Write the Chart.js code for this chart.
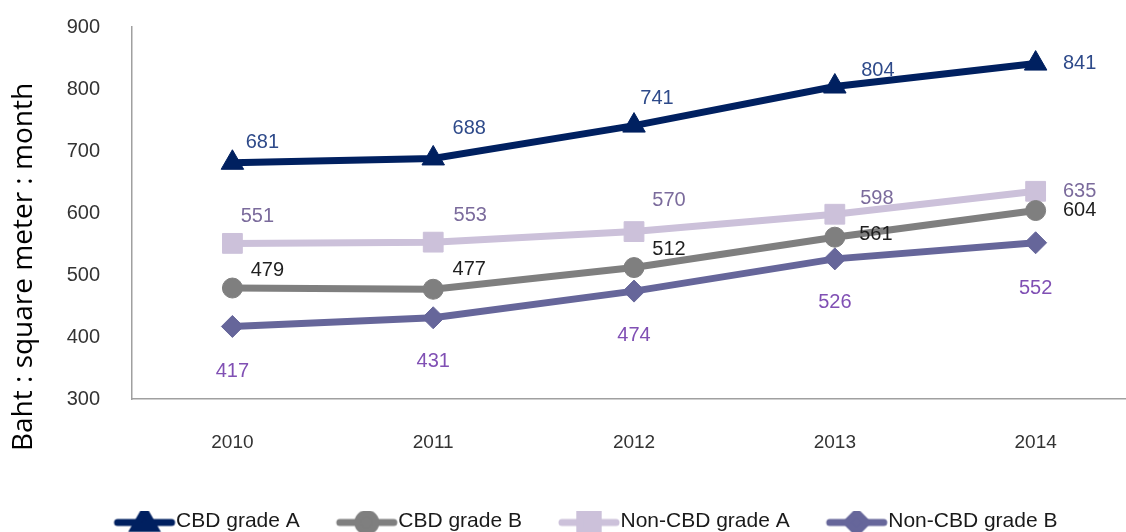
<!DOCTYPE html>
<html>
<head>
<meta charset="utf-8">
<script src="https://cdn.jsdelivr.net/npm/chart.js@4"></script>
<style>
  html, body { margin: 0; padding: 0; background: #fff; }
  #wrap { width: 1126px; height: 532px; }
</style>
</head>
<body>
<div id="wrap"><canvas id="myChart" width="1126" height="532"></canvas></div>
<script>
var years = [2010, 2011, 2012, 2013, 2014];
var cbdA = [681, 688, 741, 804, 841];
var cbdB = [479, 477, 512, 561, 604];
var nonCbdA = [551, 553, 570, 598, 635];
var nonCbdB = [417, 431, 474, 526, 552];
var yTicks = [300, 400, 500, 600, 700, 800, 900];
var yTitle = 'Baht : square meter : month';

// label offsets (px) from each point, per series
var labelOffsets = [
  [[30, -20], [36, -30], [23, -27], [43, -16], [44, 0]],
  [[35, -18], [36, -20], [35, -18], [41, -3], [44, 0]],
  [[25, -27], [37, -27], [35, -31], [42, -16], [44, 0]],
  [[0, 45], [0, 44], [0, 44], [0, 44], [0, 46]]
];

function pts(arr) {
  return arr.map(function (v, i) { return { x: years[i], y: v }; });
}

// legend icon: line with the marker, marker sits right of the image centre
function legendIcon(color, style, r) {
  var c = document.createElement('canvas');
  c.width = 140; c.height = 30;
  var g = c.getContext('2d');
  g.strokeStyle = color; g.fillStyle = color;
  g.lineWidth = 7;
  g.lineCap = 'round';
  g.beginPath(); g.moveTo(66, 16); g.lineTo(120, 16); g.stroke();
  Chart.helpers.drawPoint(g, { pointStyle: style, radius: r, rotation: 0, borderWidth: 1 }, 93, 16);
  return c;
}

var series = [
  { label: 'CBD grade A', data: cbdA, color: '#002060', style: 'triangle', r: 13, lr: 12, text: '#2e4a8a' },
  { label: 'CBD grade B', data: cbdB, color: '#7f7f7f', style: 'circle', r: 10, lr: 9, text: '#1f1f1f' },
  { label: 'Non-CBD grade A', data: nonCbdA, color: '#ccc1da', style: 'rect', r: 14, lr: 13, text: '#7b6b9c' },
  { label: 'Non-CBD grade B', data: nonCbdB, color: '#66669a', style: 'rectRot', r: 11, lr: 10, text: '#8050b4' }
];

var yTitlePlugin = {
  id: 'yTitle',
  afterDraw: function (chart) {
    var c = chart.ctx;
    c.save();
    c.translate(24, 267);
    c.rotate(-Math.PI / 2);
    c.font = '28px "Open Sans"';
    c.fillStyle = '#000';
    c.textAlign = 'center';
    c.textBaseline = 'middle';
    c.fillText(yTitle, 0, 0);
    c.restore();
  }
};

var valueLabels = {
  id: 'valueLabels',
  afterDatasetsDraw: function (chart) {
    var c = chart.ctx;
    c.save();
    c.font = '20px "Liberation Sans"';
    c.textAlign = 'center';
    c.textBaseline = 'middle';
    chart.data.datasets.forEach(function (ds, di) {
      var meta = chart.getDatasetMeta(di);
      c.fillStyle = series[di].text;
      meta.data.forEach(function (p, i) {
        var o = labelOffsets[di][i];
        c.fillText(String(ds.data[i].y), p.x + o[0], p.y + o[1]);
      });
    });
    c.restore();
  }
};

var ctx = document.getElementById('myChart');

var myChart = new Chart(ctx, {
  type: 'line',
  data: {
    datasets: series.map(function (s) {
      return {
        label: s.label,
        data: pts(s.data),
        borderColor: s.color,
        backgroundColor: s.color,
        pointBackgroundColor: s.color,
        pointBorderColor: s.color,
        pointBorderWidth: 1,
        borderWidth: 7,
        pointStyle: s.style,
        pointRadius: s.r,
        pointHoverRadius: s.r,
        tension: 0,
        fill: false,
        clip: false
      };
    })
  },
  options: {
    responsive: false,
    animation: false,
    layout: { autoPadding: false, padding: { top: 27, left: 9, right: 0, bottom: -10 } },
    plugins: {
      tooltip: { enabled: false },
      legend: {
        position: 'bottom',
        labels: {
          usePointStyle: true,
          pointStyleWidth: 88,
          padding: 0,
          color: '#1a1a1a',
          font: { family: 'Liberation Sans', size: 21 },
          generateLabels: function (chart) {
            return series.map(function (s, i) {
              return {
                text: s.label,
                pointStyle: legendIcon(s.color, s.style, s.lr),
                fillStyle: s.color,
                strokeStyle: s.color,
                lineWidth: 0,
                hidden: false,
                datasetIndex: i,
                fontColor: '#1a1a1a'
              };
            });
          }
        }
      }
    },
    scales: {
      x: {
        type: 'linear',
        min: 2009.5,
        max: 2014.45,
        grid: { display: false, drawTicks: false },
        border: { color: '#a0a0a0', width: 1.5 },
        afterBuildTicks: function (scale) {
          scale.ticks = years.map(function (v) { return { value: v }; });
        },
        afterFit: function (scale) {
          scale.height = 112;
          scale.paddingLeft = 0;
          scale.paddingRight = 0;
        },
        ticks: {
          padding: 32,
          color: '#333',
          font: { family: 'Liberation Sans', size: 19 },
          callback: function (v) { return String(v); }
        }
      },
      y: {
        min: 300,
        max: 900,
        grid: { display: false, drawTicks: false },
        border: { color: '#a0a0a0', width: 1.5 },
        afterBuildTicks: function (scale) {
          scale.ticks = yTicks.map(function (v) { return { value: v }; });
        },
        afterFit: function (scale) {
          scale.width = 123;
          scale.paddingTop = 0;
          scale.paddingBottom = 0;
        },
        ticks: {
          padding: 32,
          color: '#333',
          font: { family: 'Liberation Sans', size: 20 }
        }
      }
    }
  },
  plugins: [yTitlePlugin, valueLabels]
});
</script>
</body>
</html>
